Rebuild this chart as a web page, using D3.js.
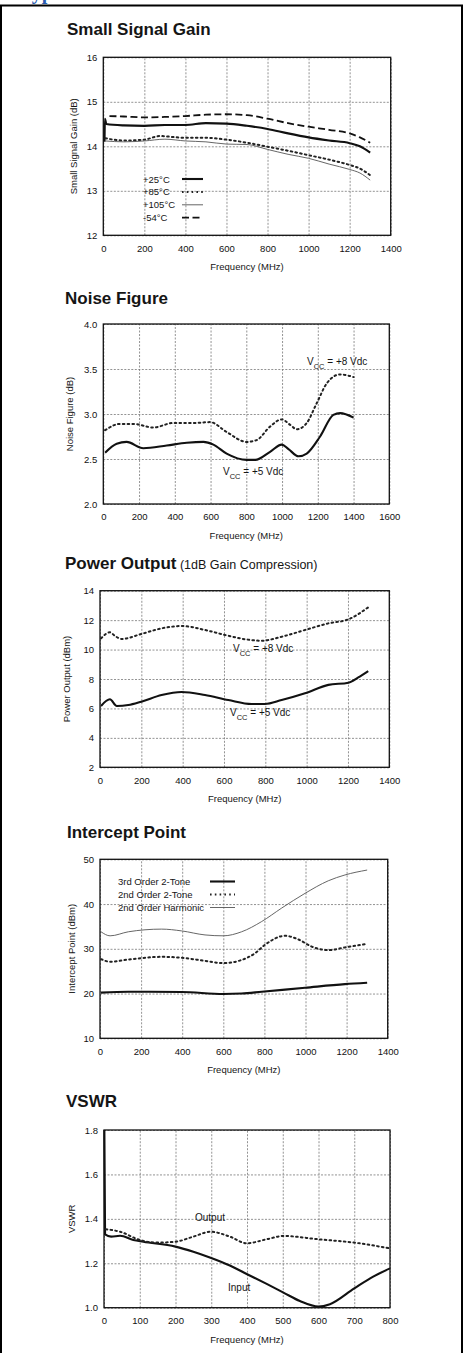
<!DOCTYPE html>
<html>
<head>
<meta charset="utf-8">
<script src="https://cdn.jsdelivr.net/npm/d3@7"></script>
<style>
body { margin: 0; background: #fff; }
text { font-family: "Liberation Sans", Arial, sans-serif; fill: #151515; }
</style>
</head>
<body>
<svg id="page" width="469" height="1353"></svg>
<script>
// ---- data ----
var freq1400Ticks = [0, 200, 400, 600, 800, 1000, 1200, 1400];
var freq1600Ticks = [0, 200, 400, 600, 800, 1000, 1200, 1400, 1600];
var freq800Ticks = [0, 100, 200, 300, 400, 500, 600, 700, 800];

// small signal gain (dB) vs frequency (MHz)
var gainTicks = [12, 13, 14, 15, 16];
var gain25 = [[6, 14.1], [8, 14.62], [15, 14.5], [100, 14.47], [200, 14.46], [300, 14.48], [400, 14.48],
  [500, 14.52], [600, 14.51], [700, 14.46], [800, 14.39], [900, 14.29], [1000, 14.2], [1100, 14.13],
  [1200, 14.07], [1250, 14.0], [1300, 13.86]];
var gain85 = [[10, 14.18], [100, 14.13], [200, 14.15], [275, 14.23], [400, 14.19], [500, 14.19],
  [600, 14.15], [700, 14.08], [800, 13.99], [900, 13.9], [1000, 13.8], [1100, 13.7], [1200, 13.58],
  [1250, 13.5], [1300, 13.35]];
var gain105 = [[10, 14.12], [100, 14.1], [200, 14.12], [300, 14.16], [400, 14.12], [500, 14.1],
  [600, 14.05], [700, 14.04], [800, 13.93], [900, 13.82], [1000, 13.73], [1100, 13.6], [1200, 13.48],
  [1250, 13.4], [1300, 13.24]];
var gainM54 = [[30, 14.68], [100, 14.67], [200, 14.65], [300, 14.66], [400, 14.68], [500, 14.71],
  [600, 14.72], [700, 14.7], [800, 14.62], [900, 14.52], [1000, 14.44], [1100, 14.37], [1200, 14.29],
  [1250, 14.2], [1300, 14.08]];
var gainLegend = ["+25°C", "+85°C", "+105°C", "-54°C"];

// noise figure (dB)
var nfTicks = [2.0, 2.5, 3.0, 3.5, 4.0];
var nf5 = [[10, 2.57], [75, 2.67], [130, 2.69], [224, 2.62], [355, 2.65], [467, 2.68], [560, 2.69],
  [616, 2.66], [690, 2.56], [802, 2.49], [850, 2.49], [933, 2.58], [998, 2.66], [1036, 2.61],
  [1092, 2.53], [1138, 2.56], [1213, 2.75], [1287, 2.99], [1325, 3.01], [1400, 2.96]];
var nf8 = [[10, 2.82], [93, 2.89], [168, 2.89], [280, 2.85], [392, 2.9], [504, 2.9], [597, 2.91],
  [690, 2.8], [802, 2.69], [858, 2.71], [933, 2.86], [998, 2.94], [1045, 2.88], [1082, 2.83],
  [1138, 2.9], [1194, 3.12], [1250, 3.34], [1325, 3.44], [1400, 3.41]];

// power output at 1dB compression (dBm)
var poutTicks = [2, 4, 6, 8, 10, 12, 14];
var pout5 = [[5, 6.17], [48, 6.62], [81, 6.17], [137, 6.23], [200, 6.46], [298, 6.91], [395, 7.12],
  [508, 6.91], [621, 6.57], [734, 6.3], [798, 6.3], [879, 6.57], [992, 7.03], [1105, 7.6],
  [1202, 7.75], [1250, 8.11], [1298, 8.54]];
var pout8 = [[5, 10.76], [48, 11.17], [73, 10.92], [105, 10.72], [200, 11.06], [298, 11.44],
  [395, 11.6], [508, 11.33], [605, 10.99], [702, 10.7], [782, 10.6], [879, 10.87], [992, 11.33],
  [1105, 11.78], [1202, 12.05], [1298, 12.87]];

// intercept point (dBm)
var ipTicks = [10, 20, 30, 40, 50];
var ip3Tone = [[5, 20.2], [138, 20.4], [397, 20.35], [600, 19.9], [689, 20.0], [787, 20.4],
  [998, 21.3], [1192, 22.1], [1300, 22.4]];
var ip2Tone = [[5, 27.7], [49, 27.1], [138, 27.6], [300, 28.2], [397, 28.0], [511, 27.3], [600, 26.8],
  [689, 27.5], [754, 29.0], [803, 30.9], [900, 32.9], [965, 32.1], [1030, 30.5], [1111, 29.7],
  [1192, 30.3], [1300, 31.1]];
var ip2Harm = [[5, 33.8], [49, 32.9], [138, 33.8], [300, 34.4], [397, 34.0], [511, 33.1], [600, 32.9],
  [689, 33.8], [787, 36.1], [884, 39.1], [998, 42.4], [1111, 45.2], [1192, 46.5], [1300, 47.6]];
var ipLegend = ["3rd Order 2-Tone", "2nd Order 2-Tone", "2nd Order Harmonic"];

// VSWR
var vswrTicks = [1.0, 1.2, 1.4, 1.6, 1.8];
var vswrIn = [[1, 1.8], [3, 1.33], [20, 1.32], [45, 1.324], [82, 1.305], [110, 1.297], [200, 1.275],
  [250, 1.252], [298, 1.225], [352, 1.19], [399, 1.152], [455, 1.107], [502, 1.068], [548, 1.03],
  [600, 1.005], [632, 1.016], [700, 1.087], [753, 1.14], [800, 1.177]];
var vswrOut = [[5, 1.353], [45, 1.342], [100, 1.305], [147, 1.293], [200, 1.297], [250, 1.32],
  [298, 1.342], [352, 1.32], [399, 1.29], [455, 1.308], [502, 1.323], [600, 1.308], [700, 1.293],
  [800, 1.267]];

// ---- drawing ----
var svg = d3.select("#page");

// cropped page header and page frame
svg.append("text")
  .attr("x", 20).attr("y", -1)
  .style("font-family", "'Liberation Serif', serif")
  .style("font-weight", "bold").style("font-size", "20px").style("fill", "#2a5cb0")
  .text("Typical Performance Curves");
svg.append("path")
  .attr("d", "M1,1353 V5.5 H462 V1353")
  .attr("fill", "none").attr("stroke", "#000").attr("stroke-width", 2);

var styles = {
  solid: {w: 2.1, dash: null, color: "#111"},
  dotted: {w: 2, dash: "1.6,3.2", color: "#222"},
  dashed: {w: 1.8, dash: "7,3.5", color: "#111"},
  thin: {w: 0.9, dash: null, color: "#555"}
};

function drawChart(c) {
  var x = d3.scaleLinear().domain(c.xDomain).range([c.left, c.right]);
  var y = d3.scaleLinear().domain(c.yDomain).range([c.bottom, c.top]);
  var g = svg.append("g");
  var w = c.right - c.left, h = c.bottom - c.top;

  // title
  var t = g.append("text").attr("x", c.titleX).attr("y", c.titleY)
    .style("font-weight", "bold").style("font-size", "17px").text(c.title);
  if (c.subtitle) {
    t.append("tspan").style("font-weight", "normal").style("font-size", "12.5px").text(" " + c.subtitle);
  }

  // grid
  g.append("g").attr("transform", "translate(0," + c.bottom + ")")
    .call(d3.axisBottom(x).tickValues(c.xTicks).tickSize(-h).tickFormat(""))
    .call(function(a){ a.select(".domain").remove(); })
    .selectAll("line").attr("stroke", "#777").attr("stroke-width", 0.8).attr("stroke-dasharray", "2,1.5");
  g.append("g").attr("transform", "translate(" + c.left + ",0)")
    .call(d3.axisLeft(y).tickValues(c.yTicks).tickSize(-w).tickFormat(""))
    .call(function(a){ a.select(".domain").remove(); })
    .selectAll("line").attr("stroke", "#777").attr("stroke-width", 0.8).attr("stroke-dasharray", "2,1.5");

  // tick labels
  g.append("g").attr("transform", "translate(0," + c.bottom + ")")
    .call(d3.axisBottom(x).tickValues(c.xTicks).tickSize(0).tickPadding(9.5).tickFormat(d3.format("d")))
    .call(function(a){ a.select(".domain").remove(); })
    .selectAll("text").style("font-size", "9.5px").style("fill", "#111");
  g.append("g").attr("transform", "translate(" + c.left + ",0)")
    .call(d3.axisLeft(y).tickValues(c.yTicks).tickSize(0).tickPadding(6).tickFormat(d3.format(c.yFormat || "d")))
    .call(function(a){ a.select(".domain").remove(); })
    .selectAll("text").style("font-size", "9.5px").style("fill", "#111");

  // frame
  g.append("rect").attr("x", c.left).attr("y", c.top).attr("width", w).attr("height", h)
    .attr("fill", "none").attr("stroke", "#111").attr("stroke-width", 1.3);

  // axis titles
  g.append("text").attr("x", (c.left + c.right) / 2).attr("y", c.bottom + 35)
    .attr("text-anchor", "middle").style("font-size", "9.5px").text(c.xLabel);
  g.append("text").attr("transform", "translate(" + c.yLabelX + "," + (c.top + c.bottom) / 2 + ") rotate(-90)")
    .attr("text-anchor", "middle").style("font-size", "9.5px").text(c.yLabel);

  // curves
  var line = d3.line().x(function(d){ return x(d[0]); }).y(function(d){ return y(d[1]); })
    .curve(d3.curveMonotoneX);
  c.series.forEach(function(s){
    var st = styles[s.style];
    g.append("path").datum(s.data).attr("d", line)
      .attr("fill", "none").attr("stroke", st.color).attr("stroke-width", st.w)
      .attr("stroke-dasharray", st.dash).attr("stroke-linecap", s.style === "dotted" ? "round" : "butt");
  });

  // legend
  if (c.legend) {
    c.legend.names.forEach(function(name, i){
      var ly = c.legend.y + i * c.legend.step;
      var st = styles[c.series[i].style];
      g.append("text").attr("x", c.legend.x).attr("y", ly).style("font-size", "9.5px").text(name);
      g.append("line").attr("x1", c.legend.lx1).attr("x2", c.legend.lx2)
        .attr("y1", ly - 3.5).attr("y2", ly - 3.5)
        .attr("stroke", st.color).attr("stroke-width", st.w).attr("stroke-dasharray", st.dash);
    });
  }

  // Vcc style annotations
  (c.notes || []).forEach(function(n){
    var tx = g.append("text").attr("x", n.x).attr("y", n.y).style("font-size", "10px");
    if (n.sub) {
      tx.append("tspan").text("V");
      tx.append("tspan").attr("dy", 3.5).style("font-size", "7.5px").text("CC");
      tx.append("tspan").attr("dy", -3.5).text(n.text);
    } else {
      tx.text(n.text);
    }
  });
}

drawChart({
  title: "Small Signal Gain", titleX: 67, titleY: 35,
  left: 103.3, right: 390.7, top: 57.3, bottom: 235.3,
  xDomain: [0, 1400], xTicks: freq1400Ticks, yDomain: [12, 16], yTicks: gainTicks,
  xLabel: "Frequency (MHz)", yLabel: "Small Signal Gain (dB)", yLabelX: 77,
  series: [
    {data: gain25, style: "solid"},
    {data: gain85, style: "dotted"},
    {data: gain105, style: "thin"},
    {data: gainM54, style: "dashed"}
  ],
  legend: {names: gainLegend, x: 143, y: 182.5, step: 12.9, lx1: 182, lx2: 203}
});

drawChart({
  title: "Noise Figure", titleX: 65, titleY: 304,
  left: 103.3, right: 389.3, top: 324, bottom: 504,
  xDomain: [0, 1600], xTicks: freq1600Ticks, yDomain: [2, 4], yTicks: nfTicks, yFormat: ".1f",
  xLabel: "Frequency (MHz)", yLabel: "Noise Figure (dB)", yLabelX: 73,
  series: [
    {data: nf5, style: "solid"},
    {data: nf8, style: "dotted"}
  ],
  notes: [
    {x: 307, y: 365, sub: true, text: " = +8 Vdc"},
    {x: 223, y: 475, sub: true, text: " = +5 Vdc"}
  ]
});

drawChart({
  title: "Power Output", subtitle: "(1dB Gain Compression)", titleX: 65, titleY: 569,
  left: 100, right: 389.3, top: 590.7, bottom: 767.3,
  xDomain: [0, 1400], xTicks: freq1400Ticks, yDomain: [2, 14], yTicks: poutTicks,
  xLabel: "Frequency (MHz)", yLabel: "Power Output (dBm)", yLabelX: 70,
  series: [
    {data: pout5, style: "solid"},
    {data: pout8, style: "dotted"}
  ],
  notes: [
    {x: 233, y: 652, sub: true, text: " = +8 Vdc"},
    {x: 230, y: 716, sub: true, text: " = +5 Vdc"}
  ]
});

drawChart({
  title: "Intercept Point", titleX: 67, titleY: 838,
  left: 100, right: 387.7, top: 859.3, bottom: 1038.3,
  xDomain: [0, 1400], xTicks: freq1400Ticks, yDomain: [10, 50], yTicks: ipTicks,
  xLabel: "Frequency (MHz)", yLabel: "Intercept Point (dBm)", yLabelX: 75,
  series: [
    {data: ip3Tone, style: "solid"},
    {data: ip2Tone, style: "dotted"},
    {data: ip2Harm, style: "thin"}
  ],
  legend: {names: ipLegend, x: 118, y: 885, step: 13, lx1: 210, lx2: 235}
});

drawChart({
  title: "VSWR", titleX: 66, titleY: 1107,
  left: 104, right: 390, top: 1130, bottom: 1307.7,
  xDomain: [0, 800], xTicks: freq800Ticks, yDomain: [1.0, 1.8], yTicks: vswrTicks, yFormat: ".1f",
  xLabel: "Frequency (MHz)", yLabel: "VSWR", yLabelX: 75,
  series: [
    {data: vswrIn, style: "solid"},
    {data: vswrOut, style: "dotted"}
  ],
  notes: [
    {x: 195, y: 1221, text: "Output"},
    {x: 228, y: 1291, text: "Input"}
  ]
});
</script>
</body>
</html>
